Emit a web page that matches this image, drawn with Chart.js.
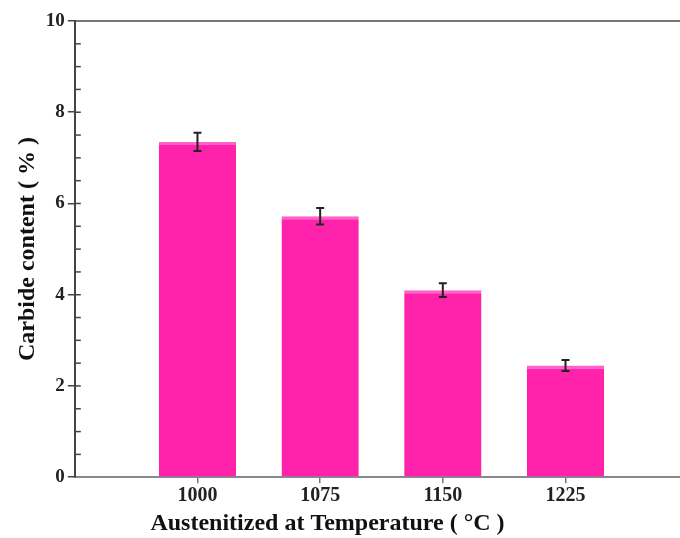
<!DOCTYPE html>
<html lang="en">
<head>
  <meta charset="UTF-8" />
  <title>Carbide content vs austenitizing temperature</title>
  <script src="https://cdn.jsdelivr.net/npm/chart.js"></script>
  <style>
    html, body { margin: 0; padding: 0; background: #fff; overflow: hidden; }
    #wrap { position: relative; width: 680px; height: 538px; }
  </style>
</head>
<body>
  <div id="wrap"><canvas id="carbideChart"></canvas></div>

  <script>
    // values
    const temps = [1000, 1075, 1150, 1225];
    const carbide = [7.35, 5.72, 4.1, 2.45];
    const carbideErr = [0.2, 0.18, 0.15, 0.12];
    const yTicks = [0, 2, 4, 6, 8, 10];

    const FONT = "'Liberation Serif', 'Times New Roman', serif";

    // error bars + inner minor ticks on the y axis
    const extras = {
      id: 'extras',
      afterLayout(chart) {
        // the original x title sits a little left of the figure centre
        const t = chart.titleBlock;
        if (t) { t.left -= 19; t.right -= 19; }
      },
      afterDatasetsDraw(chart) {
        const { ctx } = chart;
        const x = chart.scales.x, y = chart.scales.y;
        ctx.save();
        ctx.strokeStyle = '#222';
        ctx.lineWidth = 2;
        temps.forEach((t, i) => {
          const px = x.getPixelForValue(t);
          const hi = y.getPixelForValue(carbide[i] + carbideErr[i]);
          const lo = y.getPixelForValue(carbide[i] - carbideErr[i]);
          ctx.beginPath();
          ctx.moveTo(px, hi); ctx.lineTo(px, lo);
          ctx.moveTo(px - 4, hi); ctx.lineTo(px + 4, hi);
          ctx.moveTo(px - 4, lo); ctx.lineTo(px + 4, lo);
          ctx.stroke();
        });
        // inward ticks every 0.5
        ctx.strokeStyle = '#444';
        ctx.lineWidth = 1.5;
        const left = chart.chartArea.left;
        for (let v = 0.5; v < 10; v += 0.5) {
          const py = y.getPixelForValue(v);
          ctx.beginPath();
          ctx.moveTo(left, py); ctx.lineTo(left + 6, py);
          ctx.stroke();
        }
        ctx.restore();
      }
    };

    new Chart(document.getElementById('carbideChart'), {
      type: 'bar',
      data: {
        datasets: [{
          label: 'Carbide content',
          data: temps.map((t, i) => ({ x: t, y: carbide[i] })),
          backgroundColor: '#ff22ab',
          borderColor: '#ff62c6',
          borderWidth: { top: 3, left: 0, right: 0, bottom: 0 },
          borderSkipped: false,
          categoryPercentage: 1,
          barPercentage: 0.63
        }]
      },
      options: {
        responsive: true,
        maintainAspectRatio: false,
        animation: false,
        layout: { padding: { left: 13, top: 13, right: 0, bottom: 0 } },
        plugins: {
          legend: { display: false },
          tooltip: { enabled: false },
          title: {
            display: true,
            position: 'bottom',
            text: 'Austenitized at Temperature ( °C )',
            color: '#111',
            font: { family: FONT, size: 24, weight: 'bold' },
            padding: { top: 0, bottom: 0 }
          }
        },
        scales: {
          x: {
            type: 'linear',
            min: 925,
            max: 1295,
            offset: false,
            afterBuildTicks: (s) => { s.ticks = temps.map(v => ({ value: v })); },
            grid: { display: true, offset: false, drawOnChartArea: false, tickLength: 6, color: '#777', lineWidth: 1.5 },
            border: { color: '#888', width: 2 },
            ticks: {
              color: '#222',
              padding: 1,
              autoSkip: false,
              maxRotation: 0,
              font: { family: FONT, size: 20, weight: 'bold' },
              callback: (v) => String(v)
            }
          },
          x2: {
            type: 'linear',
            position: 'top',
            min: 925,
            max: 1295,
            offset: false,
            grid: { display: false },
            ticks: { display: false },
            border: { color: '#777', width: 2 }
          },
          y: {
            min: 0,
            max: 10,
            afterBuildTicks: (s) => { s.ticks = yTicks.map(v => ({ value: v })); },
            grid: { display: true, drawOnChartArea: false, tickLength: 7, color: '#444', lineWidth: 1.5 },
            border: { color: '#444', width: 2 },
            ticks: {
              color: '#222',
              padding: 3,
              font: { family: FONT, size: 19, weight: 'bold' }
            },
            title: {
              display: true,
              text: 'Carbide content ( % )',
              color: '#111',
              font: { family: FONT, size: 24, weight: 'bold' },
              padding: { top: 0, bottom: 1 }
            }
          }
        }
      },
      plugins: [extras]
    });
  </script>
</body>
</html>
